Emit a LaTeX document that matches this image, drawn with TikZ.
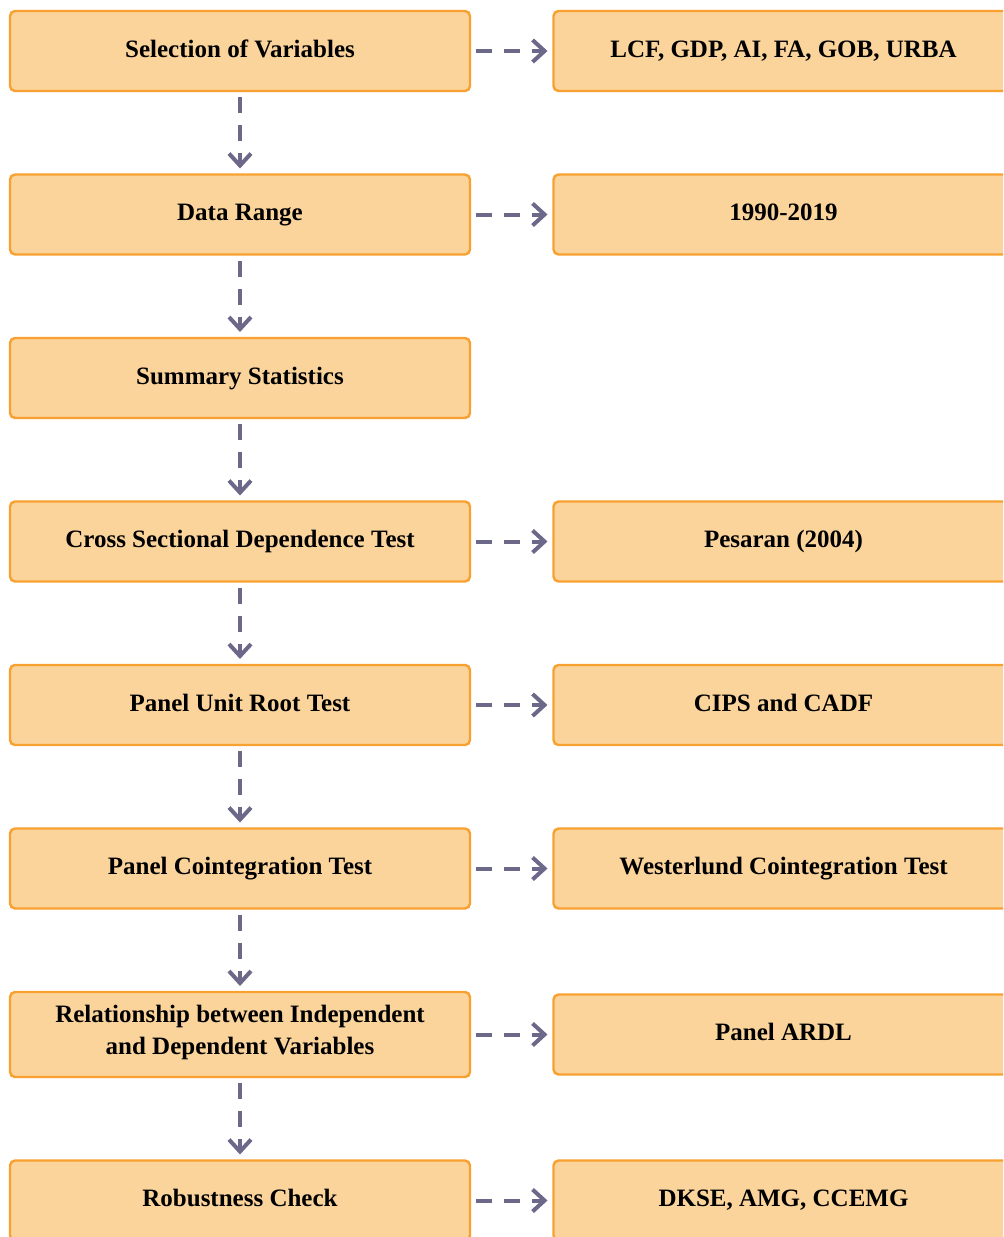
\documentclass[tikz,border=0pt]{standalone}
\usepackage{fontspec}
\setmainfont{Liberation Serif}
\usetikzlibrary{arrows.meta, positioning}
\definecolor{boxfill}{HTML}{FBD49C}
\definecolor{boxline}{HTML}{F8A030}
\definecolor{arrowgray}{HTML}{6C6889}

\begin{document}
\begin{tikzpicture}[x=0.5pt, y=-0.5pt, node distance=41.75pt,
    stepbox/.style={draw=boxline, fill=boxfill, line width=1.2pt, rounded corners=2.5pt,
        minimum width=230pt, minimum height=40pt, inner sep=0pt, outer sep=0pt,
        align=center, font=\fontsize{12.5}{16}\selectfont\bfseries, execute at begin node=\strut},
    link/.style={draw=arrowgray, line width=2pt, dash pattern=on 8pt off 6pt,
        -{Straight Barb[length=6pt, width=11pt]}, shorten <=3pt, shorten >=3pt}]
    \clip (0,0) rectangle (1003,1237);
    % left column: steps
    \node[stepbox] (sel) at (240,51) {Selection of Variables};
    \node[stepbox, below=of sel] (range) {Data Range};
    \node[stepbox, below=of range] (stats) {Summary Statistics};
    \node[stepbox, below=of stats] (csd) {Cross Sectional Dependence Test};
    \node[stepbox, below=of csd] (unit) {Panel Unit Root Test};
    \node[stepbox, below=of unit] (coint) {Panel Cointegration Test};
    \node[stepbox, below=of coint, minimum height=42.5pt] (relation) {Relationship between Independent\\and Dependent Variables};
    \node[stepbox, below=of relation] (robust) {Robustness Check};
    % right column: methods
    \node[stepbox, right=of sel] (vars) {LCF, GDP, AI, FA, GOB, URBA};
    \node[stepbox, right=of range] (years) {1990-2019};
    \node[stepbox, right=of csd] (pesaran) {Pesaran (2004)};
    \node[stepbox, right=of unit] (cips) {CIPS and CADF};
    \node[stepbox, right=of coint] (wester) {Westerlund Cointegration Test};
    \node[stepbox, right=of relation] (ardl) {Panel ARDL};
    \node[stepbox, right=of robust] (dkse) {DKSE, AMG, CCEMG};

    \draw[link] (sel) -- (range);
    \draw[link] (range) -- (stats);
    \draw[link] (stats) -- (csd);
    \draw[link] (csd) -- (unit);
    \draw[link] (unit) -- (coint);
    \draw[link] (coint) -- (relation);
    \draw[link] (relation) -- (robust);
    \draw[link] (sel) -- (vars);
    \draw[link] (range) -- (years);
    \draw[link] (csd) -- (pesaran);
    \draw[link] (unit) -- (cips);
    \draw[link] (coint) -- (wester);
    \draw[link] (relation) -- (ardl);
    \draw[link] (robust) -- (dkse);
\end{tikzpicture}
\end{document}
